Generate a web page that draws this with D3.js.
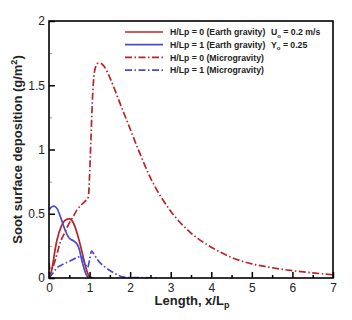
<!DOCTYPE html>
<html>
<head>
<meta charset="utf-8">
<script src="https://cdn.jsdelivr.net/npm/d3@7"></script>
<style>
  body { margin: 0; background: #fff; }
  text { font-family: "Liberation Sans", Arial, sans-serif; }
</style>
</head>
<body>
<script>
// H/Lp = 0, Earth gravity
var redEarthX = [0, 0.05, 0.1, 0.15, 0.2, 0.3, 0.4, 0.5, 0.6, 0.7, 0.8, 0.9, 0.95, 1.0, 1.1];
var redEarthY = [0.01, 0.04, 0.12, 0.22, 0.3, 0.4, 0.45, 0.46, 0.43, 0.34, 0.22, 0.09, 0.04, 0.01, 0];

// H/Lp = 1, Earth gravity
var blueEarthX = [0, 0.05, 0.12, 0.2, 0.3, 0.4, 0.5, 0.6, 0.7, 0.75, 0.8, 0.85, 0.9, 0.95, 1.0];
var blueEarthY = [0.53, 0.55, 0.56, 0.54, 0.46, 0.37, 0.31, 0.29, 0.26, 0.22, 0.15, 0.09, 0.04, 0.01, 0];

// H/Lp = 0, microgravity
var redMicroX = [0, 0.03, 0.1, 0.2, 0.27, 0.4, 0.47, 0.6, 0.69, 0.8, 0.9, 0.97, 1.0, 1.03, 1.08, 1.13, 1.2, 1.27, 1.35, 1.5, 1.7, 2.0, 2.2, 2.5, 3.0, 3.5, 4.0, 4.5, 5.0, 5.5, 6.0, 6.5, 7.0];
var redMicroY = [0.12, 0.06, 0.09, 0.19, 0.27, 0.36, 0.41, 0.48, 0.53, 0.57, 0.6, 0.63, 0.8, 1.05, 1.45, 1.62, 1.67, 1.67, 1.65, 1.56, 1.4, 1.16, 1.0, 0.78, 0.52, 0.35, 0.24, 0.16, 0.11, 0.08, 0.057, 0.04, 0.025];

// H/Lp = 1, microgravity
var blueMicroX = [0, 0.1, 0.2, 0.3, 0.5, 0.7, 0.8, 0.88, 0.95, 1.0, 1.05, 1.1, 1.2, 1.4, 1.6, 1.8, 2.0, 2.5, 2.7];
var blueMicroY = [0, 0.04, 0.08, 0.1, 0.13, 0.16, 0.17, 0.12, 0.08, 0.14, 0.21, 0.19, 0.14, 0.08, 0.04, 0.01, 0.003, 0.002, 0];

var legendLabels = ["H/Lp = 0 (Earth gravity)", "H/Lp = 1 (Earth gravity)", "H/Lp = 0 (Microgravity)", "H/Lp = 1 (Microgravity)"];
var xTicks = [0, 1, 2, 3, 4, 5, 6, 7];
var yTicks = [0, 0.5, 1, 1.5, 2];

var width = 352, height = 320;
var margin = {left: 49, right: 19, top: 21, bottom: 42};

var svg = d3.select("body").append("svg")
  .attr("width", width)
  .attr("height", height);

var x = d3.scaleLinear().domain([0, 7]).range([margin.left, width - margin.right]);
var y = d3.scaleLinear().domain([0, 2]).range([height - margin.bottom, margin.top]);

var red = "#b8242a", blue = "#4a4ad0";
var dashDot = "7,2.5,1.5,2.5";

function zip(xs, ys) { return xs.map(function(v, i) { return [v, ys[i]]; }); }

var series = [
  {data: zip(redEarthX, redEarthY), color: red, dash: null},
  {data: zip(blueEarthX, blueEarthY), color: blue, dash: null},
  {data: zip(redMicroX, redMicroY), color: red, dash: dashDot},
  {data: zip(blueMicroX, blueMicroY), color: blue, dash: dashDot}
];

var line = d3.line()
  .x(function(d) { return x(d[0]); })
  .y(function(d) { return y(d[1]); })
  .curve(d3.curveMonotoneX);

svg.append("defs").append("clipPath").attr("id", "clip")
  .append("rect")
  .attr("x", x(0)).attr("y", y(2))
  .attr("width", x(7) - x(0)).attr("height", y(0) - y(2));

svg.append("g")
  .attr("clip-path", "url(#clip)")
  .selectAll("path")
  .data(series)
  .enter().append("path")
  .attr("d", function(d) { return line(d.data); })
  .style("fill", "none")
  .style("stroke", function(d) { return d.color; })
  .style("stroke-width", 1.7)
  .style("stroke-dasharray", function(d) { return d.dash; });

// ticks, drawn inward
var xAxis = d3.axisBottom(x).tickValues(xTicks).tickSize(-6).tickPadding(5).tickFormat(d3.format("d"));
var xMinor = d3.axisBottom(x).tickValues(d3.range(0.5, 7, 1)).tickSize(-3).tickFormat("");
var yAxis = d3.axisLeft(y).tickValues(yTicks).tickSize(-6).tickPadding(4).tickFormat(function(d) { return d; });
var yMinor = d3.axisLeft(y).tickValues(d3.range(0.25, 2, 0.5)).tickSize(-3).tickFormat("");

function styleAxis(g) {
  g.select(".domain").remove();
  g.selectAll("line").style("stroke", "#000").style("stroke-width", 1.5);
  g.selectAll("text").style("font-size", "12px").style("fill", "#222");
}

svg.append("g").attr("transform", "translate(0," + y(0) + ")").call(xAxis).call(styleAxis);
svg.append("g").attr("transform", "translate(0," + y(0) + ")").call(xMinor).call(styleAxis);
svg.append("g").attr("transform", "translate(" + x(0) + ",0)").call(yAxis).call(styleAxis);
svg.append("g").attr("transform", "translate(" + x(0) + ",0)").call(yMinor).call(styleAxis)
  .selectAll("line").style("stroke", "#999").style("stroke-width", 1);

svg.append("rect")
  .attr("x", x(0)).attr("y", y(2))
  .attr("width", x(7) - x(0)).attr("height", y(0) - y(2))
  .style("fill", "none")
  .style("stroke", "#000")
  .style("stroke-width", 1.6);

// legend
var legend = svg.append("g").selectAll("g")
  .data(series)
  .enter().append("g")
  .attr("transform", function(d, i) { return "translate(125," + (32 + i * 12.7) + ")"; });

legend.append("line")
  .attr("x1", 0).attr("x2", 38)
  .style("stroke", function(d) { return d.color; })
  .style("stroke-width", 1.7)
  .style("stroke-dasharray", function(d) { return d.dash; });

legend.append("text")
  .attr("x", 45).attr("y", 3.2)
  .style("font-size", "8.7px")
  .style("font-weight", "bold")
  .style("fill", "#222")
  .text(function(d, i) { return legendLabels[i]; });

var note = svg.append("g").style("font-size", "8.7px").style("font-weight", "bold").style("fill", "#222");
var t1 = note.append("text").attr("x", 271).attr("y", 35.2);
t1.append("tspan").text("U");
t1.append("tspan").attr("dy", 2.5).style("font-size", "6px").text("o");
t1.append("tspan").attr("dy", -2.5).text(" = 0.2 m/s");
var t2 = note.append("text").attr("x", 271).attr("y", 47.9);
t2.append("tspan").text("Y");
t2.append("tspan").attr("dy", 2.5).style("font-size", "6px").text("o");
t2.append("tspan").attr("dy", -2.5).text(" = 0.25");

// axis titles
var xt = svg.append("text")
  .attr("x", 192).attr("y", 305)
  .attr("text-anchor", "middle")
  .style("font-size", "13px").style("font-weight", "bold").style("fill", "#222");
xt.append("tspan").text("Length, x/L");
xt.append("tspan").attr("dy", 3).style("font-size", "9px").text("p");

var yt = svg.append("text")
  .attr("transform", "translate(22," + ((y(0) + y(2)) / 2) + ") rotate(-90)")
  .attr("text-anchor", "middle")
  .style("font-size", "13px").style("font-weight", "bold").style("fill", "#222");
yt.append("tspan").text("Soot surface deposition (g/m");
yt.append("tspan").attr("dy", -5).style("font-size", "9px").text("2");
yt.append("tspan").attr("dy", 5).text(")");
</script>
</body>
</html>
